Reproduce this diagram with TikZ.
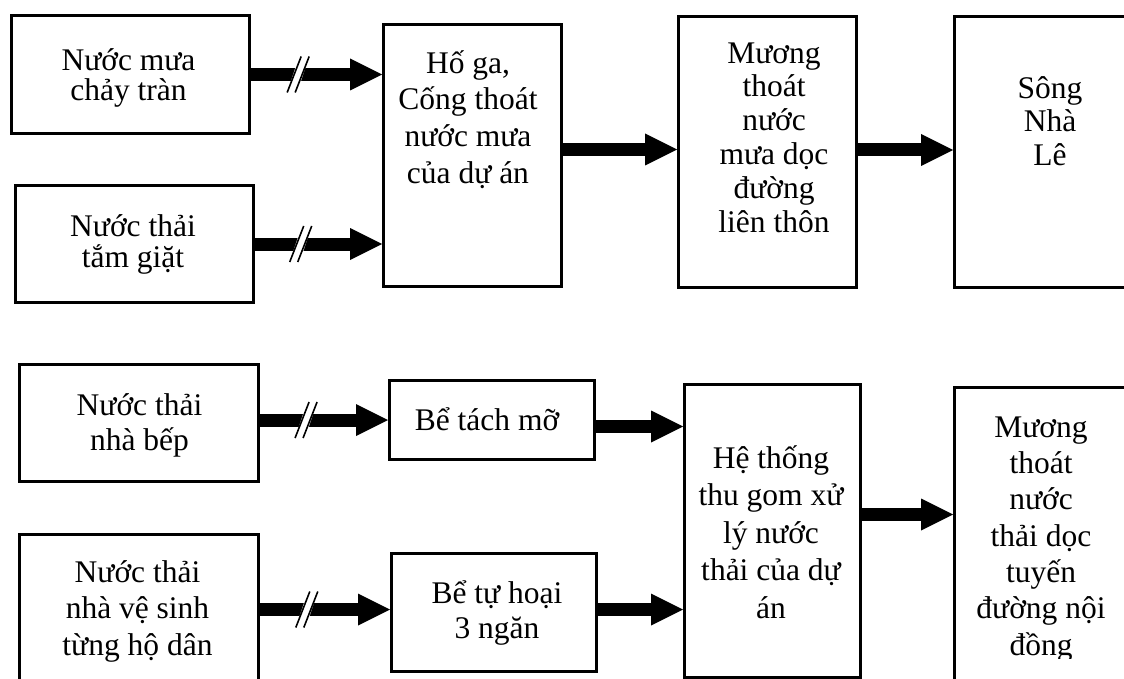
\documentclass[tikz,border=0pt]{standalone}
\usepackage{fontspec}
\setmainfont{Liberation Serif}
\usetikzlibrary{arrows.meta}
\newcommand{\fs}[1]{\fontsize{31.5}{#1}\selectfont}
\newcommand{\st}{\rule{0pt}{32pt}}
\begin{document}
\begin{tikzpicture}[x=1pt,y=-1pt,
  box/.style={draw, line width=3pt, rectangle, inner sep=0pt, anchor=north west},
  txt/.style={align=center, inner sep=0pt, anchor=north},
  flow/.style={line width=13pt, -{Triangle[length=32pt,width=32pt,line width=0pt]}},
  dslash/.pic={
    \fill[white] (-2.5,-7.5) -- (7.5,-7.5) -- (2.5,7.5) -- (-7.5,7.5) -- cycle;
    \draw[line width=1.6pt] (3,-18) -- (-11,18) (11,-18) -- (-3,18);
  }]
\useasboundingbox (0,0) rectangle (1124,679);
\clip (0,0) rectangle (1124,679);
\fill[white] (0,0) rectangle (1124,679);
% boxes
\node[box, minimum width=238pt, minimum height=118pt] (A) at (10,14) {};
\node[box, minimum width=238pt, minimum height=117pt] (B) at (14,184) {};
\node[box, minimum width=178pt, minimum height=262pt] (C) at (382,23) {};
\node[box, minimum width=178pt, minimum height=271pt] (D) at (677,15) {};
\node[box, minimum width=194pt, minimum height=271pt] (E) at (953,15) {};
\node[box, minimum width=239pt, minimum height=117pt] (F) at (18,363) {};
\node[box, minimum width=239pt, minimum height=200pt] (G) at (18,533) {};
\node[box, minimum width=205pt, minimum height=79pt] (H) at (388,379) {};
\node[box, minimum width=205pt, minimum height=118pt] (I) at (390,552) {};
\node[box, minimum width=176pt, minimum height=293pt] (J) at (683,383) {};
\node[box, minimum width=179pt, minimum height=340pt] (K) at (953,386) {};
% texts
\node[txt, font=\fs{30}] (tA) at (128.5,38) {\st Nước mưa\\chảy tràn};
\node[txt, font=\fs{31}] (tB) at (133,204) {\st Nước thải\\tắm giặt};
\node[txt, font=\fs{36.7}] (tC) at (468,41) {\st Hố ga,\\Cống thoát\\nước mưa\\của dự án};
\node[txt, font=\fs{33.8}] (tD) at (774,31) {\st Mương\\thoát\\nước\\mưa dọc\\đường\\liên thôn};
\node[txt, font=\fs{33.5}] (tE) at (1050,66) {\st Sông\\Nhà\\Lê};
\node[txt, font=\fs{35}] (tF) at (139.5,383) {\st Nước thải\\nhà bếp};
\node[txt, font=\fs{36.5}] (tG) at (137.5,550) {\st Nước thải\\nhà vệ sinh\\từng hộ dân};
\node[txt, font=\fs{36}] (tH) at (487,398) {\st Bể tách mỡ};
\node[txt, font=\fs{35}] (tI) at (497,571) {\st Bể tự hoại\\3 ngăn};
\node[txt, font=\fs{37.5}] (tJ) at (771,436) {\st Hệ thống\\thu gom xử\\lý nước\\thải của dự\\án};
\begin{scope}
  \clip (960,390) rectangle (1124,658);
  \node[txt, font=\fs{36.3}] (tK) at (1041,405) {\st Mương\\thoát\\nước\\thải dọc\\tuyến\\đường nội\\đồng};
\end{scope}
% connectors
\draw[flow] (A.east) -- coordinate[pos=0.36] (s1) (A.east -| C.west);
\draw[flow] (B.east) -- coordinate[pos=0.36] (s2) (B.east -| C.west);
\draw[flow] ([yshift=6pt]C.east) -- ([yshift=6pt]C.east -| D.west);
\draw[flow] ([yshift=2pt]D.east) -- ([yshift=2pt]D.east -| E.west);
\draw[flow] (H.west -| F.east) -- coordinate[pos=0.36] (s3) (H.west);
\draw[flow] ([yshift=3pt]I.west -| G.east) -- coordinate[pos=0.36] (s4) ([yshift=3pt]I.west);
\draw[flow] ([yshift=-6.5pt]H.east) -- ([yshift=-6.5pt]H.east -| J.west);
\draw[flow] ([yshift=3pt]I.east) -- ([yshift=3pt]I.east -| J.west);
\draw[flow] ([yshift=16.5pt]J.east) -- ([yshift=16.5pt]J.east -| K.west);
\pic at (s1) {dslash};
\pic at (s2) {dslash};
\pic at (s3) {dslash};
\pic at (s4) {dslash};
\end{tikzpicture}
\end{document}
